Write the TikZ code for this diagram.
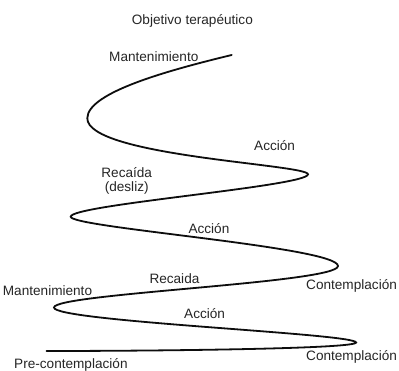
\documentclass[tikz,border=0pt]{standalone}
\usepackage{fontspec}
\setmainfont{Liberation Sans}
\begin{document}
\begin{tikzpicture}[x=1pt,y=-1pt,
  lbl/.style={anchor=base west,inner sep=0pt,text=black!85,font=\fontsize{13.6}{15}\selectfont},
  spiral/.style={line width=1.8pt,draw=black!95,line cap=round}]
\useasboundingbox[fill=white] (0,0) rectangle (399,371);
% curve turning points
\coordinate (s)  at (46.5,351);
\coordinate (t1) at (356,342.5);
\coordinate (t2) at (54,307.5);
\coordinate (t3) at (338,266);
\coordinate (t4) at (70.7,216.7);
\coordinate (t5) at (308,174.3);
\coordinate (t6) at (87.3,118.3);
\coordinate (e)  at (231.7,55);
\draw[spiral] (s) .. controls +(104,0) and +(0,6.5) .. (t1)
  .. controls +(0,-9) and +(0,14) .. (t2)
  .. controls +(0,-14) and +(0,17) .. (t3)
  .. controls +(0,-19) and +(0,11) .. (t4)
  .. controls +(0,-12) and +(0,12) .. (t5)
  .. controls +(0,-10) and +(0,38) .. (t6)
  .. controls +(0,-26) and +(-62,15) .. (e);
% labels
\node[lbl] (goal) at (131.7,25) {Objetivo terapéutico};
\node[lbl] (mant1) at (109,62) {Mantenimiento};
\node[lbl] (acc1) at (254,151) {Acción};
\node[lbl,anchor=base] (rec1) at (126.7,177.5) {Recaída};
\node[lbl,anchor=base] (desl) at (126.7,192) {(desliz)};
\node[lbl] (acc2) at (188.3,233.3) {Acción};
\node[lbl] (rec2) at (149.3,283.3) {Recaida};
\node[lbl] (mant2) at (2.7,295.5) {Mantenimiento};
\node[lbl] (cont1) at (306,290) {Contemplación};
\node[lbl] (acc3) at (184,319) {Acción};
\node[lbl] (cont2) at (306,360) {Contemplación};
\node[lbl] (pre) at (14,368.5) {Pre-contemplación};
\end{tikzpicture}
\end{document}
